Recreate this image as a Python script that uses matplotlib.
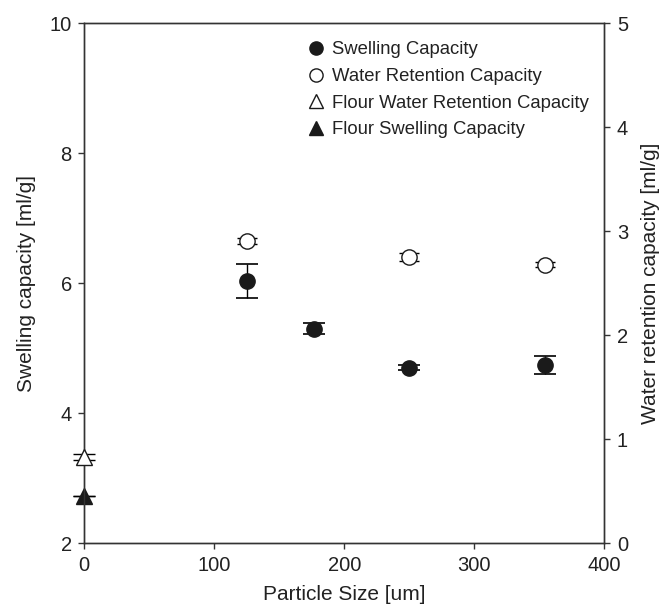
import matplotlib.pyplot as plt
from matplotlib.lines import Line2D

plt.rcParams['font.family'] = ['Liberation Sans', 'DejaVu Sans']

# particle sizes (um)
size = [125, 177, 250, 354]
swelling = [6.04, 5.30, 4.70, 4.74]
swelling_err = [0.26, 0.085, 0.04, 0.14]

wrc_size = [125, 250, 354]
wrc = [2.91, 2.75, 2.68]
wrc_err = [0.03, 0.04, 0.02]

# flour (plotted at size 0)
flour_swelling = [2.72]
flour_swelling_err = [0.0]
flour_wrc = [0.83]
flour_wrc_err = [0.03]

fig = plt.figure(figsize=(6.67, 6.06), dpi=100)
ax = fig.add_axes([0.1264, 0.1035, 0.7796, 0.8581])
ax2 = ax.twinx()

ms = 11
ax.errorbar(size, swelling, yerr=swelling_err, fmt='o', color='#1a1a1a', ms=ms,
            ecolor='black', elinewidth=1, capsize=8, capthick=1.2, zorder=3)
ax.errorbar([0], flour_swelling, yerr=flour_swelling_err, fmt='^', color='#1a1a1a', ms=ms,
            ecolor='black', elinewidth=1, capsize=8, zorder=3, clip_on=False)
ax2.errorbar(wrc_size, wrc, yerr=wrc_err, fmt='o', mfc='white', mec='#1a1a1a', mew=1, ms=ms,
             ecolor='black', elinewidth=1, capsize=7, capthick=1.2, zorder=3)
ax2.errorbar([0], flour_wrc, yerr=flour_wrc_err, fmt='^', mfc='white', mec='#1a1a1a', mew=1, ms=ms,
             ecolor='black', elinewidth=1, capsize=8, capthick=1.2, zorder=3, clip_on=False)

ax.set_xlim(0, 400)
ax.set_ylim(2, 10)
ax2.set_ylim(0, 5)
ax.set_xticks([0, 100, 200, 300, 400])
ax.set_yticks([2, 4, 6, 8, 10])
ax2.set_yticks([0, 1, 2, 3, 4, 5])

for a in (ax, ax2):
    a.tick_params(direction='out', length=4, width=1, labelsize=14.5, pad=5, color='#333333',
                  labelcolor='#222222')
    for s in a.spines.values():
        s.set_linewidth(1)
        s.set_color('#333333')

ax.set_xlabel('Particle Size [um]', fontsize=15, labelpad=7, color='#222222')
ax.set_ylabel('Swelling capacity [ml/g]', fontsize=15, labelpad=10, color='#222222')
ax2.set_ylabel('Water retention capacity [ml/g]', fontsize=15, labelpad=9, color='#222222')

handles = [
    Line2D([], [], ls='none', marker='o', color='#1a1a1a', ms=9.5),
    Line2D([], [], ls='none', marker='o', mfc='white', mec='#1a1a1a', ms=9.5),
    Line2D([], [], ls='none', marker='^', mfc='white', mec='#1a1a1a', ms=9.5),
    Line2D([], [], ls='none', marker='^', color='#1a1a1a', ms=9.5),
]
labels = ['Swelling Capacity', 'Water Retention Capacity',
          'Flour Water Retention Capacity', 'Flour Swelling Capacity']
leg = ax2.legend(handles, labels, loc='upper left', bbox_to_anchor=(0.395, 0.997), frameon=False,
                 fontsize=13.3, handlelength=1.0, handletextpad=0.4, labelspacing=0.52)
for t in leg.get_texts():
    t.set_color('#222222')

fig.savefig('out.png', dpi=100)
